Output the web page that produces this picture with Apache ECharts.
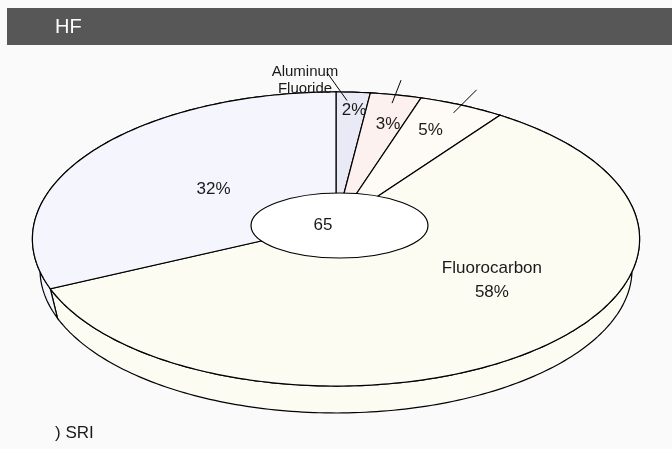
<!DOCTYPE html>
<html><head><meta charset="utf-8">
<script src="https://cdn.jsdelivr.net/npm/echarts@6/dist/echarts.min.js"></script>
<style>html,body{margin:0;padding:0;background:#fafafa}#c{width:672px;height:449px}</style>
</head><body><div id="c"></div>
<script>
// ---- data ----
const categories = ['Aluminum Fluoride', '', '', 'Fluorocarbon', ''];
const shares = [2, 3, 5, 58, 32];
const titleText = 'HF';
const centerTotal = '65';
const sourceText = ') SRI';

// ---- styling / layout ----
const colors = ['#EAEAF6', '#FDF1EF', '#FEFAF6', '#FCFCF3', '#F5F6FD'];
const labelFactor = [[0.95, 0.78], [0.79, 0.70], [0.69, 0.72], [0.81, 0.50], [0.48, 0.44]];
const hasLeader = [true, true, true, false, false];
const leaderOffset = [[-20, -28], [9, -23], [23, -23], [0, 0], [0, 0]];
const FONT = '"Liberation Sans", Arial, sans-serif';
const G = {cx: 336, cy: 224, sx: 302, sy: 145.5, p: 0.102, s: 0.975, d: 31};

const total = shares.reduce((a, b) => a + b, 0);
const cum = [0];
shares.forEach((v, i) => cum.push(cum[i] + v));

function proj(r, theta, bottom) {
  const X = r * Math.sin(theta), Z = -r * Math.cos(theta);
  const w = 1 - G.p * Z;
  let x = G.cx + G.sx * X / w, y = G.cy + G.sy * Z / w;
  if (bottom) { x = G.cx + (x - G.cx) * G.s; y = G.cy + (y - G.cy) * G.s + G.d; }
  return [x, y];
}
function arc(t1, t2, bottom) {
  const n = Math.max(2, Math.ceil((t2 - t1) / (Math.PI / 180)));
  const pts = [];
  for (let i = 0; i <= n; i++) pts.push(proj(1, t1 + (t2 - t1) * i / n, bottom));
  return pts;
}
function angles(i) {
  return [cum[i] / total * 2 * Math.PI, cum[i + 1] / total * 2 * Math.PI];
}

function renderSide(params, api) {
  const i = params.dataIndex;
  const [t1, t2] = angles(i);
  const pts = arc(t1, t2, false).concat(arc(t1, t2, true).reverse());
  return {type: 'polygon', shape: {points: pts},
    style: {fill: colors[i], stroke: '#000', lineWidth: 1.2}};
}
function renderTop(params, api) {
  const i = params.dataIndex;
  const v = api.value(0);
  const [t1, t2] = angles(i);
  const pts = [proj(0, 0, false)].concat(arc(t1, t2, false));
  const children = [{type: 'polygon', z2: 1, shape: {points: pts},
    style: {fill: colors[i], stroke: '#000', lineWidth: 1.2}}];
  const tm = (t1 + t2) / 2;
  const lx = G.cx + G.sx * Math.sin(tm) * labelFactor[i][0];
  const ly = G.cy - G.sy * Math.cos(tm) * labelFactor[i][1];
  const inner = hasLeader[i] || !categories[i];
  children.push({type: 'text', z2: 20, style: {
    text: inner ? v + '%' : categories[i] + '\n' + v + '%',
    x: lx, y: ly, align: 'center', verticalAlign: 'middle',
    font: '17px ' + FONT, fill: '#1a1a1a', lineHeight: 24}});
  if (hasLeader[i]) {
    const a = proj(0.93, tm - (i === 0 ? 0.02 : 0), false);
    const b = [a[0] + leaderOffset[i][0], a[1] + leaderOffset[i][1]];
    children.push({type: 'line', z2: 10, shape: {x1: a[0], y1: a[1], x2: b[0], y2: b[1]},
      style: {stroke: '#000', lineWidth: 1}});
    if (categories[i]) {
      children.push({type: 'text', z2: 20, style: {
        text: categories[i].replace(' ', '\n'), x: b[0] - 22, y: b[1] + 8,
        align: 'center', verticalAlign: 'middle', font: '15px ' + FONT,
        fill: '#1a1a1a', lineHeight: 17}});
    }
  }
  return {type: 'group', children};
}

const data = shares.map(v => [v]);
const chart = echarts.init(document.getElementById('c'));
chart.setOption({
  animation: false,
  backgroundColor: '#fafafa',
  series: [
    {type: 'custom', coordinateSystem: 'none', z: 2, data, renderItem: renderSide, silent: true},
    {type: 'custom', coordinateSystem: 'none', z: 3, data, renderItem: renderTop, silent: true}
  ],
  graphic: [
    {type: 'rect', z: 10, shape: {x: 7, y: 8, width: 665, height: 37}, style: {fill: '#575757'}},
    {type: 'text', z: 11, style: {text: titleText, x: 55, y: 27, verticalAlign: 'middle', font: '20px ' + FONT, fill: '#fff'}},
    {type: 'ellipse', z: 10, shape: {cx: 339.5, cy: 225.5, rx: 88.5, ry: 32.5}, style: {fill: '#fff', stroke: '#000', lineWidth: 1.2}},
    {type: 'text', z: 11, style: {text: centerTotal, x: 323, y: 225, align: 'center', verticalAlign: 'middle', font: '17px ' + FONT, fill: '#1a1a1a'}},
    {type: 'text', z: 11, style: {text: sourceText, x: 55, y: 433, verticalAlign: 'middle', font: '17px ' + FONT, fill: '#1a1a1a'}}
  ]
});
</script></body></html>
